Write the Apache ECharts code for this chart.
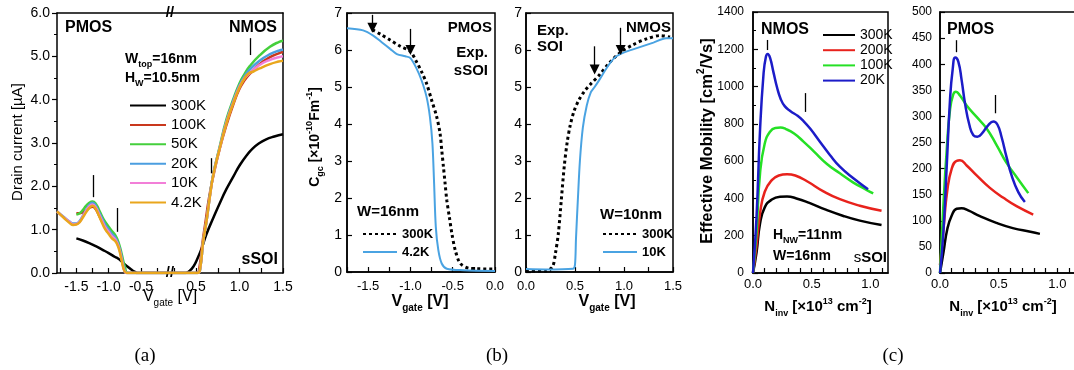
<!DOCTYPE html>
<html><head><meta charset="utf-8">
<script src="https://cdn.jsdelivr.net/npm/echarts@6/dist/echarts.min.js"></script>
<style>html,body{margin:0;padding:0;background:#fff}#c{width:1074px;height:370px}</style>
</head><body><div id="c"></div>
<script>
const F = '"Liberation Sans", Arial, Helvetica, sans-serif';

// ---------------- Panel (a): drain current vs gate voltage ----------------
const aNames = ['300K', '100K', '50K', '20K', '10K', '4.2K'];
const aColors = ['#000000', '#c9381d', '#45cf3c', '#4b9ee0', '#f27fd8', '#e9a61c'];
// PMOS side (left)
const aP300 = [[-1.5,0.80],[-1.4,0.75],[-1.3,0.69],[-1.2,0.62],[-1.1,0.54],[-1.0,0.46],[-0.9,0.37],[-0.85,0.33],[-0.8,0.27],[-0.75,0.2],[-0.7,0.14],[-0.65,0.08],[-0.6,0.03],[-0.55,0.0],[-0.05,0.0]];
const aP100 = [[-1.5,1.38],[-1.45,1.38],[-1.4,1.40],[-1.35,1.44],[-1.3,1.50],[-1.25,1.53],[-1.2,1.47],[-1.15,1.33],[-1.1,1.18],[-1.05,1.05],[-1.0,0.95],[-0.95,0.86],[-0.9,0.79],[-0.85,0.64],[-0.8,0.36],[-0.76,0.08],[-0.72,0.0],[-0.05,0.0]];
const aP50  = [[-1.5,1.35],[-1.45,1.38],[-1.4,1.45],[-1.35,1.55],[-1.3,1.62],[-1.25,1.65],[-1.2,1.60],[-1.15,1.46],[-1.1,1.30],[-1.05,1.17],[-1.0,1.07],[-0.95,0.97],[-0.9,0.88],[-0.85,0.72],[-0.8,0.45],[-0.75,0.15],[-0.7,0.0],[-0.05,0.0]];
const aP20  = [[-1.8,1.42],[-1.7,1.30],[-1.6,1.18],[-1.55,1.14],[-1.5,1.14],[-1.45,1.20],[-1.4,1.32],[-1.35,1.45],[-1.3,1.57],[-1.25,1.62],[-1.2,1.55],[-1.15,1.40],[-1.1,1.25],[-1.05,1.10],[-1.0,1.00],[-0.95,0.90],[-0.9,0.82],[-0.85,0.66],[-0.8,0.38],[-0.76,0.1],[-0.72,0.0],[-0.05,0.0]];
const aP10  = [[-1.8,1.42],[-1.7,1.29],[-1.6,1.17],[-1.55,1.12],[-1.5,1.13],[-1.45,1.18],[-1.4,1.30],[-1.35,1.43],[-1.3,1.54],[-1.25,1.58],[-1.2,1.51],[-1.15,1.36],[-1.1,1.20],[-1.05,1.05],[-1.0,0.95],[-0.95,0.85],[-0.9,0.78],[-0.85,0.63],[-0.8,0.33],[-0.76,0.07],[-0.72,0.0],[-0.05,0.0]];
const aP4   = [[-1.8,1.42],[-1.7,1.28],[-1.6,1.15],[-1.55,1.11],[-1.5,1.12],[-1.45,1.17],[-1.4,1.28],[-1.35,1.40],[-1.3,1.50],[-1.25,1.55],[-1.2,1.48],[-1.15,1.32],[-1.1,1.15],[-1.05,1.00],[-1.0,0.90],[-0.95,0.80],[-0.9,0.74],[-0.85,0.6],[-0.8,0.3],[-0.76,0.06],[-0.72,0.0],[-0.05,0.0]];
// NMOS side (right)
const aN300 = [[0.2,0],[0.38,0],[0.42,0.04],[0.47,0.15],[0.52,0.35],[0.57,0.6],[0.62,0.9],[0.7,1.28],[0.77,1.6],[0.85,1.94],[0.93,2.23],[1.0,2.48],[1.08,2.71],[1.15,2.87],[1.23,3.0],[1.3,3.08],[1.4,3.15],[1.5,3.2]];
const aN100 = [[0.2,0],[0.51,0],[0.54,0.15],[0.57,0.65],[0.61,1.2],[0.65,1.75],[0.7,2.25],[0.77,2.85],[0.85,3.42],[0.93,3.9],[1.0,4.25],[1.06,4.45],[1.12,4.6],[1.23,4.82],[1.35,4.98],[1.45,5.07],[1.5,5.1]];
const aN50  = [[0.2,0],[0.52,0],[0.55,0.15],[0.58,0.7],[0.62,1.2],[0.66,1.8],[0.7,2.3],[0.77,2.9],[0.85,3.55],[0.93,4.02],[1.0,4.38],[1.06,4.6],[1.12,4.78],[1.23,5.02],[1.35,5.22],[1.45,5.33],[1.5,5.36]];
const aN20  = [[0.2,0],[0.52,0],[0.55,0.15],[0.58,0.7],[0.62,1.2],[0.66,1.8],[0.7,2.3],[0.77,2.88],[0.85,3.5],[0.93,3.98],[1.0,4.33],[1.06,4.55],[1.12,4.7],[1.23,4.9],[1.35,5.05],[1.45,5.13],[1.5,5.15]];
const aN10  = [[0.2,0],[0.52,0],[0.55,0.15],[0.58,0.7],[0.62,1.2],[0.66,1.78],[0.7,2.28],[0.77,2.86],[0.85,3.48],[0.93,3.95],[1.0,4.3],[1.06,4.5],[1.12,4.62],[1.23,4.8],[1.35,4.92],[1.45,4.98],[1.5,5.0]];
const aN4   = [[0.2,0],[0.52,0],[0.55,0.15],[0.58,0.7],[0.62,1.2],[0.66,1.78],[0.7,2.28],[0.77,2.86],[0.85,3.46],[0.93,3.93],[1.0,4.28],[1.06,4.5],[1.1,4.6],[1.16,4.65],[1.23,4.72],[1.35,4.82],[1.45,4.88],[1.5,4.9]];
const aPMOS = [aP300, aP100, aP50, aP20, aP10, aP4];
const aNMOS = [aN300, aN100, aN50, aN20, aN10, aN4];
const aXLeftLabels = [-1.5, -1.0, -0.5];
const aXLeftTicks = [-1.75, -1.5, -1.25, -1.0, -0.75, -0.5, -0.25];
const aXRightLabels = [0.5, 1.0, 1.5];
const aXRightTicks = [0.25, 0.5, 0.75, 1.0, 1.25, 1.5];
const aMarksLeft = [[-1.24, 2.26, 1.75], [-0.86, 1.5, 0.95]];
const aMarksRight = [[0.68, 2.65, 2.3], [1.12, 5.42, 5.03]];

// ---------------- Panel (b): gate capacitance ----------------
const bColors = ['#000000', '#4aa3e2'];
const bL300 = [[-1.45,6.55],[-1.35,6.42],[-1.24,6.27],[-1.12,6.1],[-1.0,5.96],[-0.93,5.69],[-0.87,5.42],[-0.81,5.10],[-0.75,4.65],[-0.69,4.20],[-0.65,3.75],[-0.63,3.30],[-0.61,2.85],[-0.59,2.39],[-0.57,1.94],[-0.54,1.49],[-0.51,1.04],[-0.47,0.59],[-0.41,0.23],[-0.3,0.1],[0,0.08]];
const bL4 = [[-1.75,6.59],[-1.56,6.53],[-1.44,6.39],[-1.34,6.21],[-1.24,6.03],[-1.16,5.89],[-1.06,5.83],[-1.0,5.78],[-0.93,5.51],[-0.87,5.19],[-0.81,4.74],[-0.77,4.2],[-0.74,3.48],[-0.72,2.39],[-0.70,1.22],[-0.67,0.59],[-0.63,0.23],[-0.57,0.09],[-0.37,0.05],[0,0.03]];
const bR300 = [[0,0.03],[0.2,0.03],[0.27,0.14],[0.3,0.5],[0.33,1.04],[0.36,1.94],[0.39,2.85],[0.42,3.5],[0.45,3.95],[0.49,4.35],[0.54,4.65],[0.6,4.9],[0.66,5.08],[0.75,5.33],[0.85,5.65],[0.96,5.93],[1.09,6.14],[1.23,6.3],[1.37,6.39],[1.47,6.35]];
const bR10 = [[0,0.08],[0.2,0.07],[0.48,0.09],[0.5,0.2],[0.51,0.9],[0.53,2.0],[0.55,3.0],[0.58,3.9],[0.62,4.5],[0.66,4.85],[0.7,5.0],[0.75,5.2],[0.82,5.5],[0.9,5.78],[0.99,5.92],[1.13,6.05],[1.3,6.2],[1.43,6.32],[1.5,6.32]];
const bXLeftLabels = [-1.5, -1.0, -0.5, 0.0];
const bXRightLabels = [0.0, 0.5, 1.0, 1.5];
const bArrowsLeft = [[-1.45, 6.95, 6.6], [-1.0, 6.57, 6.0]];
const bArrowsRight = [[0.7, 6.1, 5.47], [0.966, 6.6, 6.0]];

// ---------------- Panel (c): effective mobility ----------------
const cNames = ['300K', '200K', '100K', '20K'];
const cColors = ['#000000', '#e8221c', '#25e025', '#1c1cc8'];
const cN300 = [[0,0],[0.03,110],[0.06,265],[0.1,352],[0.16,394],[0.23,409],[0.29,410],[0.37,400],[0.48,376],[0.62,340],[0.77,306],[0.91,281],[1.095,257]];
const cN200 = [[0,0],[0.03,145],[0.06,320],[0.1,436],[0.16,498],[0.22,523],[0.29,530],[0.36,523],[0.46,492],[0.6,438],[0.74,396],[0.91,361],[1.095,334]];
const cN100 = [[0,0],[0.03,220],[0.06,535],[0.1,695],[0.145,758],[0.19,778],[0.235,780],[0.28,772],[0.35,748],[0.43,705],[0.52,651],[0.63,585],[0.74,535],[0.855,485],[0.97,445],[1.024,427]];
const cN20 = [[0,0],[0.03,300],[0.06,767],[0.09,1070],[0.11,1160],[0.125,1175],[0.145,1155],[0.175,1075],[0.205,995],[0.235,935],[0.27,895],[0.32,868],[0.38,843],[0.43,815],[0.49,772],[0.57,704],[0.655,633],[0.74,570],[0.855,508],[0.98,449]];
const cP300 = [[0,0],[0.03,40],[0.062,84],[0.1,110],[0.142,123],[0.184,124],[0.24,120],[0.34,109],[0.48,96],[0.62,86],[0.77,79],[0.851,75]];
const cP200 = [[0,15],[0.03,85],[0.062,158],[0.1,200],[0.142,215],[0.17,216],[0.227,206],[0.312,187],[0.425,163],[0.54,144],[0.652,128],[0.794,112]];
const cP100 = [[0,0],[0.028,126],[0.057,235],[0.085,312],[0.113,342],[0.136,347],[0.17,340],[0.227,321],[0.312,299],[0.397,277],[0.482,245],[0.567,211],[0.652,184],[0.752,153]];
const cP20 = [[0,0],[0.028,75],[0.057,203],[0.085,331],[0.108,390],[0.13,413],[0.156,405],[0.184,370],[0.213,325],[0.25,284],[0.284,264],[0.318,261],[0.363,269],[0.41,283],[0.454,290],[0.49,284],[0.525,260],[0.567,222],[0.61,187],[0.667,155],[0.723,136]];
const cNMOS = [cN300, cN200, cN100, cN20];
const cPMOS = [cP300, cP200, cP100, cP20];
const cXLabels = [0.0, 0.5, 1.0];
const cXTicks = [0,0.1,0.2,0.3,0.4,0.5,0.6,0.7,0.8,0.9,1.0,1.1];
const cMarksLeft = [[0.125, 1250, 1196], [0.443, 965, 864]];
const cMarksRight = [[0.136, 446, 423], [0.468, 341, 306]];

// ---------------- helpers ----------------
const ctx = document.createElement('canvas').getContext('2d');
function tw(t, font) { ctx.font = font; return ctx.measureText(t).width; }
function rtext(parts, o) {
  const w = o.weight || 'normal';
  const kids = []; let cx = 0;
  parts.forEach(p => {
    const t = p[0], k = p[1] || 'n', pw = p[2] || w;
    const fs = k === 'n' ? o.size : Math.round(o.size * 0.62);
    const font = pw + ' ' + fs + 'px ' + F;
    const dy = k === 'sub' ? o.size * 0.42 : (k === 'sup' ? -o.size * 0.36 : 0);
    kids.push({type: 'text', x: cx, y: dy, silent: true,
      style: {text: t, font: font, fill: '#000', align: 'left', verticalAlign: 'middle', textAlign: 'left', textVerticalAlign: 'middle'}});
    cx += tw(t, font);
  });
  const off = o.anchor === 'center' ? -cx / 2 : (o.anchor === 'right' ? -cx : 0);
  kids.forEach(k => { k.x += off; });
  return {type: 'group', x: o.x, y: o.y, rotation: o.rotate || 0, silent: true, children: kids};
}
const fmt1 = v => (Math.abs(v) < 1e-9 ? 0 : v).toFixed(1);
const fmt0 = v => String(Math.round(v));
function xAxis(o) {
  return {
    type: 'value', gridIndex: o.grid, min: o.min, max: o.max, position: o.position || 'bottom',
    splitLine: {show: false},
    axisLine: {show: true, onZero: false, lineStyle: {color: '#000', width: 1.5}},
    axisTick: o.ticks ? {show: true, inside: true, length: 5, customValues: o.ticks, lineStyle: {color: '#000', width: 1.2}} : {show: false},
    axisLabel: o.labels ? {show: true, customValues: o.labels, formatter: fmt1, color: '#000', fontFamily: F, fontSize: o.fs || 13, margin: o.margin || 7} : {show: false},
    minorTick: {show: false}
  };
}
function yAxis(o) {
  return {
    type: 'value', gridIndex: o.grid, min: o.min, max: o.max, interval: o.interval, position: o.position || 'left',
    splitLine: {show: false},
    axisLine: {show: true, onZero: false, lineStyle: {color: '#000', width: 1.5}},
    axisTick: o.noTicks ? {show: false} : {show: true, inside: o.inside !== false, length: 5, lineStyle: {color: '#000', width: 1.2}},
    minorTick: o.minor ? {show: true, splitNumber: o.minor, length: 3, lineStyle: {color: '#000', width: 1}} : {show: false},
    axisLabel: o.noLabels ? {show: false} : {show: true, formatter: o.formatter || fmt0, color: '#000', fontFamily: F, fontSize: o.fs || 13, margin: o.margin || 5}
  };
}
function line(name, data, color, xi, yi, extra) {
  return Object.assign({
    type: 'line', name: name, data: data, xAxisIndex: xi, yAxisIndex: yi,
    symbol: 'none', showSymbol: false, smooth: 0.5, clip: true,
    lineStyle: {color: color, width: 2.5}, itemStyle: {color: color},
    emphasis: {disabled: true}, animation: false, silent: true
  }, extra || {});
}
function vmarks(list, arrow) {
  return {
    silent: true, animation: false,
    symbol: arrow ? ['none', 'triangle'] : ['none', 'none'], symbolSize: arrow ? 10 : 0,
    label: {show: false}, emphasis: {disabled: true},
    lineStyle: {color: '#000', width: 1.3, type: 'solid'},
    itemStyle: {color: '#000'},
    data: list.map(m => [{coord: [m[0], m[1]]}, {coord: [m[0], m[2]]}])
  };
}

// ---------------- series ----------------
const series = [];
aNames.forEach((n, i) => {
  series.push(line('a:' + n, aPMOS[i], aColors[i], 0, 0, i === 0 ? {markLine: vmarks(aMarksLeft)} : {}));
});
aNames.forEach((n, i) => {
  series.push(line('a:' + n, aNMOS[i], aColors[i], 2, 1, i === 0 ? {markLine: vmarks(aMarksRight)} : {}));
});
series.push(line('bL:300K', bL300, bColors[0], 4, 2, {smooth: 0.3, lineStyle: {color: '#000', width: 3, type: [3, 3]}}));
series.push(line('bL:4.2K', bL4, bColors[1], 4, 2, {smooth: 0.3, lineStyle: {color: bColors[1], width: 2}, markLine: vmarks(bArrowsLeft, true)}));
series.push(line('bR:300K', bR300, bColors[0], 5, 3, {smooth: 0.3, lineStyle: {color: '#000', width: 3, type: [3, 3]}}));
series.push(line('bR:10K', bR10, bColors[1], 5, 3, {smooth: 0.3, lineStyle: {color: bColors[1], width: 2}, markLine: vmarks(bArrowsRight, true)}));
cNames.forEach((n, i) => {
  series.push(line('c:' + n, cNMOS[i], cColors[i], 6, 4, i === 0 ? {markLine: vmarks(cMarksLeft)} : {}));
});
cNames.forEach((n, i) => {
  series.push(line('c:' + n, cPMOS[i], cColors[i], 7, 5, i === 0 ? {markLine: vmarks(cMarksRight)} : {}));
});

const boxed = {show: true, borderColor: '#000', borderWidth: 1.5, backgroundColor: 'transparent', outerBoundsMode: 'none', containLabel: false};
const open = {show: false, outerBoundsMode: 'none', containLabel: false};
const legendText = n => n.split(':')[1];
const noSym = {opacity: 0};

const option = {
  animation: false,
  backgroundColor: '#fff',
  grid: [
    Object.assign({left: 57, top: 13, width: 113, height: 260}, open),
    Object.assign({left: 170, top: 13, width: 113, height: 260}, open),
    Object.assign({left: 347, top: 13, width: 148, height: 259}, boxed),
    Object.assign({left: 526, top: 13, width: 147, height: 259}, boxed),
    Object.assign({left: 753, top: 12, width: 135, height: 261}, boxed),
    Object.assign({left: 940, top: 12, width: 135, height: 261}, boxed)
  ],
  xAxis: [
    xAxis({grid: 0, min: -1.8, max: -0.05, labels: aXLeftLabels, ticks: aXLeftTicks, fs: 14}),
    xAxis({grid: 0, min: -1.8, max: -0.05, position: 'top'}),
    xAxis({grid: 1, min: 0.2, max: 1.5, labels: aXRightLabels, ticks: aXRightTicks, fs: 14}),
    xAxis({grid: 1, min: 0.2, max: 1.5, position: 'top'}),
    xAxis({grid: 2, min: -1.75, max: 0, labels: bXLeftLabels, ticks: [-1.75,-1.5,-1.25,-1.0,-0.75,-0.5,-0.25,0], margin: 8}),
    xAxis({grid: 3, min: 0, max: 1.5, labels: bXRightLabels, ticks: [0,0.25,0.5,0.75,1.0,1.25,1.5], margin: 8}),
    xAxis({grid: 4, min: 0, max: 1.15, labels: cXLabels, ticks: cXTicks, margin: 5}),
    xAxis({grid: 5, min: 0, max: 1.15, labels: cXLabels, ticks: cXTicks, margin: 5})
  ],
  yAxis: [
    yAxis({grid: 0, min: 0, max: 6, interval: 1, formatter: fmt1, inside: false, minor: 2, fs: 14, margin: 7}),
    yAxis({grid: 1, min: 0, max: 6, interval: 1, position: 'right', noTicks: true, noLabels: true}),
    yAxis({grid: 2, min: 0, max: 7, interval: 1, margin: 5, fs: 14}),
    yAxis({grid: 3, min: 0, max: 7, interval: 1, margin: 4, fs: 14}),
    yAxis({grid: 4, min: 0, max: 1400, interval: 200, minor: 2, margin: 9, fs: 12}),
    yAxis({grid: 5, min: 0, max: 500, interval: 50, margin: 8, fs: 12})
  ],
  legend: [
    {left: 124, top: 93, orient: 'vertical', itemWidth: 36, itemHeight: 14, itemGap: 4.4, selectedMode: false,
      itemStyle: noSym, data: aNames.map(n => 'a:' + n), formatter: legendText,
      textStyle: {fontFamily: F, fontSize: 15, lineHeight: 14, color: '#000'}},
    {left: 357, top: 222, orient: 'vertical', itemWidth: 34, itemHeight: 14, itemGap: 4, selectedMode: false,
      itemStyle: noSym, data: ['bL:300K', 'bL:4.2K'], formatter: legendText,
      textStyle: {fontFamily: F, fontSize: 13, fontWeight: 'bold', lineHeight: 14, color: '#000'}},
    {left: 597, top: 222, orient: 'vertical', itemWidth: 34, itemHeight: 14, itemGap: 4, selectedMode: false,
      itemStyle: noSym, data: ['bR:300K', 'bR:10K'], formatter: legendText,
      textStyle: {fontFamily: F, fontSize: 13, fontWeight: 'bold', lineHeight: 14, color: '#000'}},
    {left: 817, top: 23, orient: 'vertical', itemWidth: 32, itemHeight: 10, itemGap: 1.2, selectedMode: false,
      itemStyle: noSym, data: cNames.map(n => 'c:' + n), formatter: legendText,
      textStyle: {fontFamily: F, fontSize: 14, lineHeight: 10, color: '#000'}}
  ],
  graphic: [
    // axis titles
    rtext([['Drain current [µA]']], {x: 18, y: 142, size: 15, anchor: 'center', rotate: Math.PI / 2}),
    rtext([['V'], ['gate', 'sub'], [' [V]']], {x: 170, y: 297, size: 16, anchor: 'center'}),
    rtext([['C'], ['gc', 'sub'], [' [×10'], ['-10', 'sup'], ['Fm'], ['-1', 'sup'], [']']], {x: 315, y: 137, size: 14, weight: 'bold', anchor: 'center', rotate: Math.PI / 2}),
    rtext([['V'], ['gate', 'sub'], [' [V]']], {x: 420, y: 302, size: 16, weight: 'bold', anchor: 'center'}),
    rtext([['V'], ['gate', 'sub'], [' [V]']], {x: 607, y: 302, size: 16, weight: 'bold', anchor: 'center'}),
    rtext([['Effective Mobility [cm'], ['2', 'sup'], ['/Vs]']], {x: 707, y: 141, size: 16.5, weight: 'bold', anchor: 'center', rotate: Math.PI / 2}),
    rtext([['N'], ['inv', 'sub'], [' [×10'], ['13', 'sup'], [' cm'], ['-2', 'sup'], [']']], {x: 818, y: 307, size: 15, weight: 'bold', anchor: 'center'}),
    rtext([['N'], ['inv', 'sub'], [' [×10'], ['13', 'sup'], [' cm'], ['-2', 'sup'], [']']], {x: 1003, y: 307, size: 15, weight: 'bold', anchor: 'center'}),
    // panel (a) annotations
    rtext([['PMOS']], {x: 65, y: 28, size: 16, weight: 'bold'}),
    rtext([['NMOS']], {x: 277, y: 28, size: 16, weight: 'bold', anchor: 'right'}),
    rtext([['W'], ['top', 'sub'], ['=16nm']], {x: 125, y: 59, size: 14, weight: 'bold'}),
    rtext([['H'], ['W', 'sub'], ['=10.5nm']], {x: 125, y: 78, size: 14, weight: 'bold'}),
    rtext([['sSOI']], {x: 278, y: 260, size: 16, weight: 'bold', anchor: 'right'}),
    {type: 'text', x: 170, y: 13, silent: true, style: {text: '//', font: 'bold 15px ' + F, fill: '#000', align: 'center', verticalAlign: 'middle', backgroundColor: '#fff', padding: [0, 1]}},
    {type: 'text', x: 170, y: 273, silent: true, style: {text: '//', font: 'bold 15px ' + F, fill: '#000', align: 'center', verticalAlign: 'middle', backgroundColor: '#fff', padding: [0, 1]}},
    // panel (b) annotations
    rtext([['PMOS']], {x: 492, y: 28, size: 15, weight: 'bold', anchor: 'right'}),
    rtext([['Exp.']], {x: 488, y: 53, size: 15, weight: 'bold', anchor: 'right'}),
    rtext([['sSOI']], {x: 488, y: 71, size: 15, weight: 'bold', anchor: 'right'}),
    rtext([['W=16nm']], {x: 357, y: 212, size: 15, weight: 'bold'}),
    rtext([['Exp.']], {x: 537, y: 31, size: 15, weight: 'bold'}),
    rtext([['SOI']], {x: 537, y: 47, size: 15, weight: 'bold'}),
    rtext([['NMOS']], {x: 671, y: 28, size: 15, weight: 'bold', anchor: 'right'}),
    rtext([['W=10nm']], {x: 600, y: 215, size: 15, weight: 'bold'}),
    // panel (c) annotations
    rtext([['NMOS']], {x: 761, y: 30, size: 16, weight: 'bold'}),
    rtext([['H'], ['NW', 'sub'], ['=11nm']], {x: 773, y: 235, size: 14, weight: 'bold'}),
    rtext([['W=16nm']], {x: 773, y: 256, size: 14, weight: 'bold'}),
    rtext([['s', 'n', 'normal'], ['SOI']], {x: 887, y: 258, size: 15, weight: 'bold', anchor: 'right'}),
    rtext([['PMOS']], {x: 947, y: 30, size: 16, weight: 'bold'}),
    // sub-figure labels
    {type: 'text', x: 145, y: 356, silent: true, style: {text: '(a)', font: '19px "Liberation Serif", "DejaVu Serif", serif', fill: '#000', align: 'center', verticalAlign: 'middle'}},
    {type: 'text', x: 497, y: 356, silent: true, style: {text: '(b)', font: '19px "Liberation Serif", "DejaVu Serif", serif', fill: '#000', align: 'center', verticalAlign: 'middle'}},
    {type: 'text', x: 893, y: 356, silent: true, style: {text: '(c)', font: '19px "Liberation Serif", "DejaVu Serif", serif', fill: '#000', align: 'center', verticalAlign: 'middle'}}
  ],
  series: series
};

const chart = echarts.init(document.getElementById('c'), null, {renderer: 'canvas', width: 1074, height: 370});
chart.setOption(option);
</script></body></html>
